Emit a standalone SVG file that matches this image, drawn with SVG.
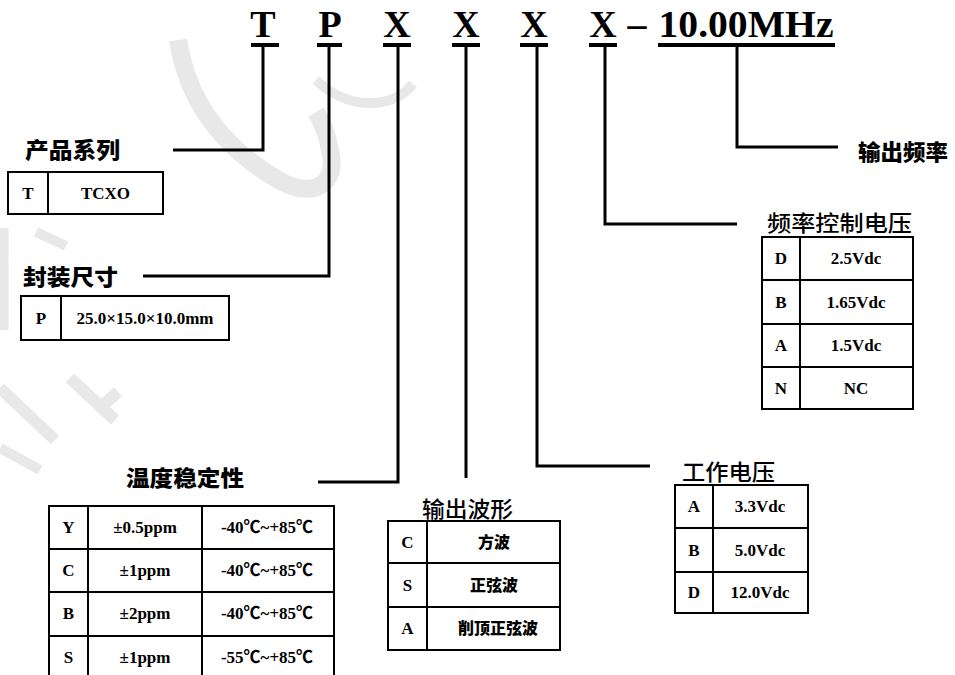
<svg xmlns="http://www.w3.org/2000/svg" width="955" height="675" viewBox="0 0 955 675">
<style>
.wm{fill:none;stroke:#e8e8e8;stroke-linecap:butt}
.hd{font-family:"Liberation Serif","Times New Roman",serif;font-weight:bold;font-size:38px;fill:#000;text-anchor:middle}
.ul{stroke:#000;stroke-width:4}
.cn{fill:none;stroke:#000;stroke-width:3}
.tb{fill:none;stroke:#000;stroke-width:2}
.lbh{font-family:"Noto Sans CJK SC","Noto Sans CJK TC",sans-serif;font-weight:900;font-size:22px;fill:#000}
.lbr{font-family:"Noto Sans CJK SC","Noto Sans CJK TC",sans-serif;font-weight:500;font-size:22px;fill:#000}
.ct{font-family:"Liberation Serif","Times New Roman","Noto Sans CJK SC",serif;font-weight:bold;font-size:17px;fill:#000;text-anchor:middle}
.cc{font-family:"Noto Sans CJK SC","Noto Sans CJK TC",sans-serif;font-weight:900;font-size:16px;fill:#000;text-anchor:middle}
</style>
<rect width="955" height="675" fill="#fff"/>
<g id="watermark">
<path class="wm" stroke-width="18" d="M178,40 C188,105 225,150 282,182 C318,200 338,180 330,150 C327,132 321,120 316,112"/>
<path class="wm" stroke-width="10" d="M316,80 C345,108 390,112 413,84"/>
<path class="wm" stroke-width="10" d="M36,232 L66,246"/>
<path class="wm" stroke-width="9" d="M4,228 L4,330"/>
<path class="wm" stroke-width="12" d="M0,388 L55,440"/>
<path class="wm" stroke-width="12" d="M70,378 L115,420 M100,408 L118,392"/>
<path class="wm" stroke-width="10" d="M0,448 L40,470"/>
</g>
<g id="code">
<text class="hd" x="263" y="37">T</text>
<text class="hd" x="330" y="37">P</text>
<text class="hd" x="397" y="37">X</text>
<text class="hd" x="466" y="37">X</text>
<text class="hd" x="534" y="37">X</text>
<text class="hd" x="603" y="37">X</text>
<text class="hd" x="637" y="37">–</text>
<text class="hd" x="746" y="37" textLength="175" lengthAdjust="spacingAndGlyphs">10.00MHz</text>
<line class="ul" x1="251" y1="45" x2="279" y2="45"/>
<line class="ul" x1="317" y1="45" x2="342" y2="45"/>
<line class="ul" x1="383" y1="45" x2="411" y2="45"/>
<line class="ul" x1="452" y1="45" x2="480" y2="45"/>
<line class="ul" x1="520" y1="45" x2="548" y2="45"/>
<line class="ul" x1="589" y1="45" x2="617" y2="45"/>
<line class="ul" x1="658" y1="45" x2="835" y2="45"/>
</g>
<g id="connectors">
<polyline class="cn" points="263,47 263,150 173,150"/>
<polyline class="cn" points="329,47 329,276 143,276"/>
<polyline class="cn" points="398,47 398,482 318,482"/>
<polyline class="cn" points="466,47 466,478"/>
<polyline class="cn" points="537,47 537,466 650,466"/>
<polyline class="cn" points="605,47 605,224 737,224"/>
<polyline class="cn" points="737,47 737,147 838,147"/>
</g>
<g id="series">
<text class="lbh" x="25" y="158" textLength="95" lengthAdjust="spacingAndGlyphs">产品系列</text>
<rect class="tb" x="8" y="172" width="155" height="42"/>
<line class="tb" x1="48" y1="172" x2="48" y2="214"/>
<text class="ct" x="28" y="199">T</text>
<text class="ct" x="105.5" y="199">TCXO</text>
</g>
<g id="package">
<text class="lbh" x="23" y="285" textLength="95" lengthAdjust="spacingAndGlyphs">封装尺寸</text>
<rect class="tb" x="21" y="296" width="208" height="44"/>
<line class="tb" x1="61" y1="296" x2="61" y2="340"/>
<text class="ct" x="41" y="324">P</text>
<text class="ct" x="145" y="324">25.0×15.0×10.0mm</text>
</g>
<g id="frequency">
<text class="lbh" x="858" y="160" textLength="90" lengthAdjust="spacingAndGlyphs">输出频率</text>
</g>
<g id="vcontrol">
<text class="lbr" x="767" y="231" textLength="145" lengthAdjust="spacingAndGlyphs">频率控制电压</text>
<rect class="tb" x="762" y="237" width="151" height="172"/>
<line class="tb" x1="800" y1="237" x2="800" y2="409"/>
<line class="tb" x1="762" y1="280" x2="913" y2="280"/>
<line class="tb" x1="762" y1="324" x2="913" y2="324"/>
<line class="tb" x1="762" y1="367" x2="913" y2="367"/>
<text class="ct" x="781" y="264">D</text><text class="ct" x="856" y="264">2.5Vdc</text>
<text class="ct" x="781" y="308">B</text><text class="ct" x="856" y="308">1.65Vdc</text>
<text class="ct" x="781" y="351">A</text><text class="ct" x="856" y="351">1.5Vdc</text>
<text class="ct" x="781" y="394">N</text><text class="ct" x="856" y="394">NC</text>
</g>
<g id="temperature">
<text class="lbh" x="126" y="486" textLength="118" lengthAdjust="spacingAndGlyphs">温度稳定性</text>
<rect class="tb" x="49" y="506" width="285" height="173"/>
<line class="tb" x1="88" y1="506" x2="88" y2="679"/>
<line class="tb" x1="202" y1="506" x2="202" y2="679"/>
<line class="tb" x1="49" y1="549" x2="334" y2="549"/>
<line class="tb" x1="49" y1="592" x2="334" y2="592"/>
<line class="tb" x1="49" y1="636" x2="334" y2="636"/>
<text class="ct" x="68.5" y="533">Y</text><text class="ct" x="145" y="533">±0.5ppm</text><text class="ct" x="267" y="533">-40℃~+85℃</text>
<text class="ct" x="68.5" y="576">C</text><text class="ct" x="145" y="576">±1ppm</text><text class="ct" x="267" y="576">-40℃~+85℃</text>
<text class="ct" x="68.5" y="619">B</text><text class="ct" x="145" y="619">±2ppm</text><text class="ct" x="267" y="619">-40℃~+85℃</text>
<text class="ct" x="68.5" y="663">S</text><text class="ct" x="145" y="663">±1ppm</text><text class="ct" x="267" y="663">-55℃~+85℃</text>
</g>
<g id="waveform">
<text class="lbr" x="422" y="517" textLength="91" lengthAdjust="spacingAndGlyphs">输出波形</text>
<rect class="tb" x="388" y="521" width="172" height="129"/>
<line class="tb" x1="427" y1="521" x2="427" y2="650"/>
<line class="tb" x1="388" y1="563" x2="560" y2="563"/>
<line class="tb" x1="388" y1="607" x2="560" y2="607"/>
<text class="ct" x="407.5" y="548">C</text><text class="cc" x="494" y="548">方波</text>
<text class="ct" x="407.5" y="591">S</text><text class="cc" x="494" y="591">正弦波</text>
<text class="ct" x="407.5" y="634">A</text><text class="cc" x="498" y="634">削顶正弦波</text>
</g>
<g id="voltage">
<text class="lbr" x="682" y="480" textLength="93" lengthAdjust="spacingAndGlyphs">工作电压</text>
<rect class="tb" x="675" y="485" width="133" height="128"/>
<line class="tb" x1="713" y1="485" x2="713" y2="613"/>
<line class="tb" x1="675" y1="528" x2="808" y2="528"/>
<line class="tb" x1="675" y1="572" x2="808" y2="572"/>
<text class="ct" x="694" y="512">A</text><text class="ct" x="760" y="512">3.3Vdc</text>
<text class="ct" x="694" y="556">B</text><text class="ct" x="760" y="556">5.0Vdc</text>
<text class="ct" x="694" y="598">D</text><text class="ct" x="760" y="598">12.0Vdc</text>
</g>
</svg>
